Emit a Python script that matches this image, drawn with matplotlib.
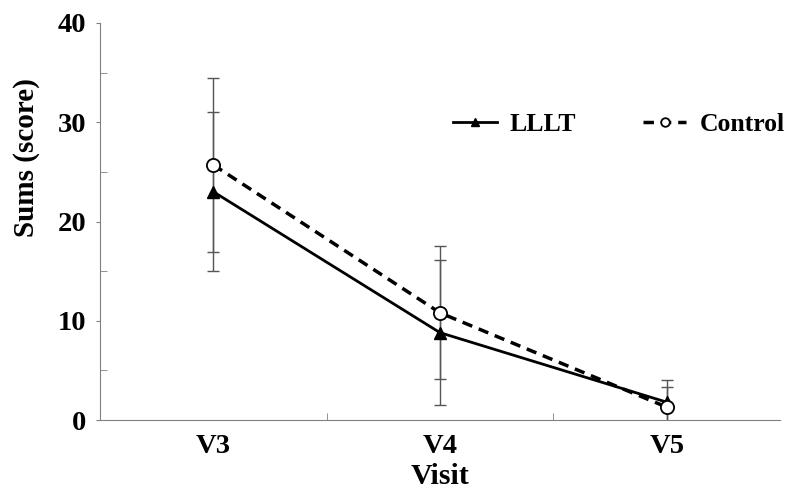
import matplotlib
matplotlib.use("Agg")
import matplotlib.pyplot as plt
import numpy as np

visits = ["V3", "V4", "V5"]
lllt_mean = [23.0, 8.8, 1.8]
lllt_err = [8.0, 7.3, 2.2]
ctrl_mean = [25.7, 10.8, 1.3]
ctrl_err = [8.8, 6.7, 2.0]
yticks = [0, 10, 20, 30, 40]

plt.rcParams['font.family'] = ['Liberation Serif', 'DejaVu Serif']
fig = plt.figure(figsize=(7.95, 4.92), dpi=100)
ax = fig.add_axes([100/795, 72/492, 680/795, 397/492])
x = np.arange(len(visits))
grey = '#808080'

ax.errorbar(x, ctrl_mean, yerr=ctrl_err, fmt='none', ecolor='#555555', elinewidth=1.0, capsize=4, capthick=1.0, zorder=1)
ax.errorbar(x, lllt_mean, yerr=lllt_err, fmt='none', ecolor='#555555', elinewidth=1.0, capsize=4, capthick=1.0, zorder=1)
ax.plot(x, lllt_mean, '-', color='black', lw=2, marker='^', ms=9, mfc='black', mec='black', label='LLLT', zorder=3)
ax.plot(x, ctrl_mean, '--', color='black', lw=2.5, dashes=(3, 2), marker='o', ms=9.5, mfc='white', mec='black', mew=1.3, label='Control', zorder=3)

ax.set_xlim(-0.5, 2.5)
ax.set_ylim(0, 40)
ax.set_yticks(yticks)
ax.set_yticks([5, 15, 25, 35], minor=True)
ax.set_xticks(x)
ax.set_xticklabels(visits)
ax.set_xticks([0.5, 1.5], minor=True)
for s in ['top', 'right']:
    ax.spines[s].set_visible(False)
for s in ['left', 'bottom']:
    ax.spines[s].set_color(grey)
ax.tick_params(axis='y', which='major', direction='out', length=3, color=grey, labelsize=20.5, pad=7)
ax.tick_params(axis='y', which='minor', direction='in', length=5, color=grey)
ax.tick_params(axis='x', which='major', length=0, labelsize=20.5, pad=10)
ax.tick_params(axis='x', which='minor', direction='in', length=5, color=grey)
for lab in ax.get_xticklabels() + ax.get_yticklabels():
    lab.set_fontweight('bold')
ax.set_xlabel('Visit', fontsize=21.5, fontweight='bold', labelpad=3)
ax.set_ylabel('Sums (score)', fontsize=21, fontweight='bold')
ax.yaxis.set_label_coords(-0.088, 0.66)

leg = ax.legend(loc='center left', bbox_to_anchor=(0.519, 0.745), ncol=2, frameon=False, borderpad=0,
                borderaxespad=0, prop={'weight': 'bold', 'size': 18.5}, handlelength=1.7, handletextpad=0.5,
                columnspacing=2.6, markerscale=0.65)

fig.savefig('out.png', dpi=100)
